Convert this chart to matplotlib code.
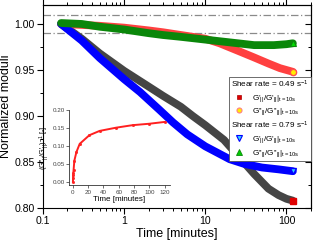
import matplotlib
matplotlib.use('Agg')
import matplotlib.pyplot as plt
from matplotlib.ticker import MultipleLocator, FormatStrFormatter, FixedLocator, NullFormatter
from matplotlib.lines import Line2D

plt.rcParams['font.family'] = ['Liberation Sans', 'DejaVu Sans']
plt.rcParams['mathtext.fontset'] = 'custom'
plt.rcParams['mathtext.rm'] = 'Liberation Sans'
plt.rcParams['mathtext.it'] = 'Liberation Sans:italic'
plt.rcParams['mathtext.bf'] = 'Liberation Sans:bold'

# ---- data (time in minutes) ----
t_gp049 = [0.167, 0.3, 0.5, 1, 2, 3, 5, 7, 10, 17, 27, 40, 60, 80, 100, 120]
gp049 = [1.000, 0.984, 0.968, 0.949, 0.932, 0.922, 0.910, 0.900, 0.890, 0.874, 0.854, 0.837, 0.821, 0.814, 0.810, 0.808]

t_gpp049 = [0.167, 0.5, 1, 2, 3, 5, 10, 15, 25, 39, 60, 83, 120]
gpp049 = [1.000, 0.998, 0.996, 0.993, 0.991, 0.988, 0.984, 0.979, 0.971, 0.964, 0.957, 0.952, 0.948]

t_gp079 = [0.167, 0.3, 0.5, 1, 1.57, 2.7, 4, 6, 10, 20, 30, 50, 80, 120]
gp079 = [1.000, 0.982, 0.963, 0.940, 0.926, 0.907, 0.893, 0.880, 0.867, 0.853, 0.848, 0.844, 0.842, 0.840]

t_gpp079 = [0.167, 0.3, 0.5, 1, 2, 3, 5, 10, 20, 40, 70, 100, 120]
gpp079 = [1.001, 1.000, 0.997, 0.994, 0.990, 0.988, 0.986, 0.983, 0.980, 0.977, 0.977, 0.978, 0.979]

t_inset = [0.167, 0.33, 0.5, 0.67, 1, 2, 4.7, 9, 21.6, 35, 56.5, 78, 100, 120]
ratio_inset = [0.000, 0.012, 0.020, 0.026, 0.033, 0.059, 0.083, 0.106, 0.130, 0.142, 0.151, 0.158, 0.162, 0.167]

ref_lines = [1.01, 0.99]
y_ticks = [0.80, 0.85, 0.90, 0.95, 1.00]
x_ticks = [0.1, 1, 10, 100]
x_ticklabels = ['0.1', '1', '10', '100']

fig = plt.figure(figsize=(3.14, 2.44), dpi=100)
ax = fig.add_axes([0.137, 0.1475, 0.853, 0.8335])

for yv in ref_lines:
    ax.axhline(yv, color='#8a8a8a', lw=0.9, ls=(0, (6, 2, 1, 2)), zorder=1)

lw = 5.6
ax.plot(t_gp049, gp049, color='#454545', lw=lw, solid_capstyle='round', zorder=2)
ax.plot(t_gpp049, gpp049, color='#ff4040', lw=lw, solid_capstyle='round', zorder=3)
ax.plot(t_gp079, gp079, color='#0000ff', lw=lw, solid_capstyle='round', zorder=4)
ax.plot(t_gpp079, gpp079, color='#0a870a', lw=lw, solid_capstyle='round', zorder=5)

ax.plot(t_gp049[-1:], gp049[-1:], ls='none', marker='s', ms=4, mfc='#e00000', mec='#e00000', zorder=6)
ax.plot(t_gpp049[-1:], gpp049[-1:], ls='none', marker='o', ms=4.5, mfc='#ffee00', mec='#ff5050', mew=1, zorder=6)
ax.plot(t_gp079[-1:], gp079[-1:], ls='none', marker='v', ms=4.5, mfc='#33ccff', mec='#0000ff', mew=1, zorder=6)
ax.plot(t_gpp079[-1:], gpp079[-1:], ls='none', marker='^', ms=4.5, mfc='#00dd00', mec='#0a870a', mew=0.8, zorder=6)

ax.set_xscale('log')
ax.set_xlim(0.1, 200)
ax.set_ylim(0.80, 1.021)
ax.xaxis.set_major_locator(FixedLocator(x_ticks))
ax.set_xticklabels(x_ticklabels)
ax.yaxis.set_major_locator(FixedLocator(y_ticks))
ax.yaxis.set_minor_locator(MultipleLocator(0.025))
ax.yaxis.set_major_formatter(FormatStrFormatter('%.2f'))
ax.tick_params(which='major', direction='out', length=4, width=0.8, labelsize=7.6, pad=2)
ax.tick_params(which='minor', direction='out', length=2, width=0.7)
for s in ax.spines.values():
    s.set_linewidth(0.8)

secx = ax.secondary_xaxis('top')
secx.tick_params(which='major', direction='out', length=4, width=0.8, labeltop=False)
secx.tick_params(which='minor', direction='out', length=2, width=0.7)
secx.xaxis.set_major_formatter(NullFormatter())
secx.xaxis.set_minor_formatter(NullFormatter())
secy = ax.secondary_yaxis('right')
secy.yaxis.set_major_locator(FixedLocator(y_ticks))
secy.yaxis.set_minor_locator(MultipleLocator(0.025))
secy.tick_params(which='major', direction='in', length=4, width=0.8, labelright=False)
secy.tick_params(which='minor', direction='in', length=2, width=0.7)

ax.set_xlabel('Time [minutes]', fontsize=9, labelpad=1)
ax.set_ylabel('Normalized moduli', fontsize=9, labelpad=2)

# legend
handles = [
    Line2D([], [], ls='none'),
    Line2D([], [], ls='none', marker='s', ms=3.3, mfc='#dd0000', mec='#aa0000', mew=0.5),
    Line2D([], [], ls='none', marker='o', ms=3.6, mfc='#ffee00', mec='#ff8080', mew=0.8),
    Line2D([], [], ls='none'),
    Line2D([], [], ls='none', marker='v', ms=3.8, mfc='#33ccff', mec='#0000ff', mew=0.8),
    Line2D([], [], ls='none', marker='^', ms=3.8, mfc='#00cc00', mec='#0a870a', mew=0.6),
]
labels = [
    r'Shear rate = 0.49 s$^{-1}$',
    r"G'$_{||}$/G'$_{||}|_{\rm t=10s}$",
    r"G''$_{||}$/G''$_{||}|_{\rm t=10s}$",
    r'Shear rate = 0.79 s$^{-1}$',
    r"G'$_{||}$/G'$_{||}|_{\rm t=10s}$",
    r"G''$_{||}$/G''$_{||}|_{\rm t=10s}$",
]
fs_leg = 5.9
leg = ax.legend(handles, labels, loc='upper right', bbox_to_anchor=(1.0, 0.646),
                borderaxespad=0, fontsize=fs_leg, frameon=True, fancybox=False,
                edgecolor='#555555', framealpha=1, handlelength=2.0, handletextpad=0.5,
                borderpad=0.25, labelspacing=0.35)
leg.get_frame().set_linewidth(0.6)
rows = leg._legend_handle_box.get_children()[0].get_children()
for i in (0, 3):
    rows[i].get_children()[0].set_width(-0.5 * fs_leg)

# inset
axi = fig.add_axes([0.2197, 0.2398, 0.3217, 0.309])
axi.patch.set_alpha(0)
axi.plot(t_inset, ratio_inset, color='#ff2020', lw=1.4, marker='s', ms=1.0, zorder=3)
axi.set_xlim(-5, 127)
axi.set_ylim(-0.01, 0.20)
axi.xaxis.set_major_locator(MultipleLocator(20))
axi.yaxis.set_major_locator(MultipleLocator(0.05))
axi.yaxis.set_major_formatter(FormatStrFormatter('%.2f'))
axi.spines['top'].set_visible(False)
axi.spines['right'].set_visible(False)
for s in ('left', 'bottom'):
    axi.spines[s].set_linewidth(0.6)
    axi.spines[s].set_color('#333333')
axi.tick_params(direction='out', length=2, width=0.5, labelsize=4.5, pad=1.2,
                colors='#333333', labelcolor='#444444')
axi.set_xlabel('Time [minutes]', fontsize=5.8, labelpad=0.5)
axi.set_ylabel(r"(G''$_{||}$/G'$_{||}$)$^{-1}$ [-]", fontsize=5.2, labelpad=1)

fig.savefig('out.png', dpi=100)
